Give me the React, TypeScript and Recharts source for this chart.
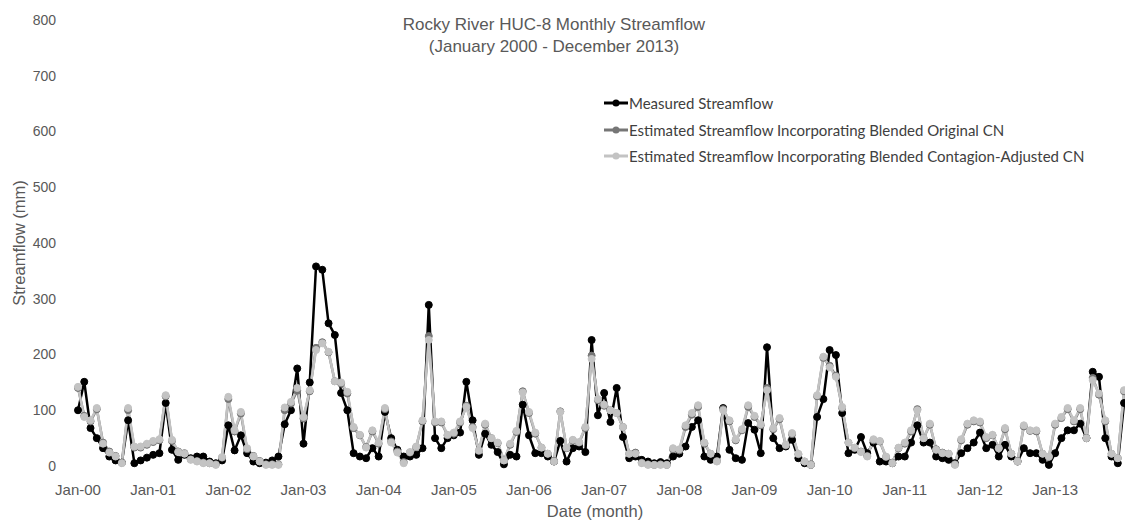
import { LineChart, Line, XAxis, YAxis } from "recharts";

// monthly streamflow (mm), Jan 2000 - Dec 2013
const measured = [
  100, 151, 68, 50, 32, 17, 10, 6, 82, 5, 10, 15,
  20, 23, 113, 29, 11, 20, 14, 17, 17, 8, 5, 10,
  73, 28, 55, 23, 8, 5, 6, 10, 17, 75, 100, 175,
  40, 150, 358, 352, 256, 235, 131, 100, 23, 17, 14, 32,
  17, 97, 50, 29, 17, 17, 20, 32, 289, 50, 32, 50,
  55, 60, 151, 82, 20, 58, 38, 25, 3, 20, 17, 110,
  55, 23, 23, 17, 8, 45, 8, 32, 35, 25, 226, 91,
  131, 79, 140, 52, 14, 17, 11, 8, 5, 7, 5, 17,
  22, 35, 70, 82, 17, 11, 17, 104, 29, 14, 11, 77,
  65, 23, 213, 50, 32, 35, 47, 14, 5, 2, 88, 120,
  208, 199, 95, 23, 29, 52, 23, 42, 8, 8, 5, 17,
  17, 42, 73, 42, 42, 17, 14, 11, 5, 23, 32, 42,
  60, 32, 38, 17, 38, 17, 8, 32, 23, 23, 11, 2,
  23, 50, 64, 64, 76, 50, 169, 160, 50, 17, 5, 113,
];

const originalCN = [
  140, 90, 80, 102, 42, 26, 18, 6, 100, 33, 33, 38,
  43, 46, 125, 45, 26, 23, 12, 9, 6, 5, 3, 15,
  120, 62, 94, 30, 18, 9, 3, 3, 3, 100, 112, 135,
  85, 134, 212, 222, 204, 152, 148, 130, 68, 55, 34, 62,
  40, 102, 44, 26, 7, 24, 34, 80, 233, 78, 78, 55,
  58, 78, 108, 70, 27, 74, 50, 41, 10, 38, 61, 134,
  95, 58, 33, 22, 9, 98, 32, 46, 42, 68, 198, 118,
  108, 100, 95, 70, 22, 24, 6, 3, 2, 3, 2, 30,
  28, 70, 92, 106, 40, 22, 9, 102, 80, 46, 64, 106,
  88, 73, 140, 66, 84, 37, 57, 21, 8, 3, 125, 194,
  180, 162, 104, 42, 32, 26, 18, 46, 44, 16, 6, 32,
  40, 62, 102, 50, 74, 30, 24, 22, 3, 46, 74, 80,
  78, 50, 55, 32, 66, 22, 9, 71, 63, 62, 22, 16,
  74, 86, 102, 80, 102, 50, 158, 128, 80, 22, 14, 134,
];

const contagionCN = [
  142, 88, 82, 104, 40, 24, 17, 5, 104, 35, 35, 40,
  45, 48, 127, 47, 25, 22, 11, 8, 5, 5, 2, 16,
  124, 64, 97, 32, 17, 8, 2, 2, 2, 105, 115, 140,
  88, 136, 208, 220, 205, 152, 150, 133, 70, 56, 33, 64,
  42, 104, 42, 24, 5, 25, 35, 82, 226, 80, 80, 56,
  60, 80, 106, 68, 28, 76, 50, 42, 10, 40, 63, 132,
  97, 60, 33, 22, 8, 97, 33, 47, 43, 70, 192, 120,
  110, 100, 95, 70, 22, 22, 5, 2, 2, 2, 2, 32,
  30, 73, 95, 109, 42, 22, 8, 100, 82, 48, 66, 109,
  90, 75, 136, 68, 86, 38, 59, 22, 8, 2, 127, 196,
  177, 160, 106, 42, 33, 25, 17, 48, 45, 17, 5, 33,
  42, 64, 100, 50, 76, 29, 23, 22, 2, 48, 76, 82,
  80, 52, 56, 32, 68, 22, 8, 73, 64, 64, 22, 17,
  76, 88, 104, 82, 104, 50, 154, 130, 82, 22, 14, 136,
];

const tickLabels = ["Jan-00", "Jan-01", "Jan-02", "Jan-03", "Jan-04", "Jan-05", "Jan-06",
  "Jan-07", "Jan-08", "Jan-09", "Jan-10", "Jan-11", "Jan-12", "Jan-13"];
const tickMonths = [0, 12, 24, 36, 48, 60, 72, 84, 96, 108, 120, 132, 144, 156];
const yTicks = [0, 100, 200, 300, 400, 500, 600, 700, 800];

const series = [
  { key: "measured", name: "Measured Streamflow", color: "#000000" },
  { key: "original", name: "Estimated Streamflow Incorporating Blended Original CN", color: "#767676" },
  { key: "contagion", name: "Estimated Streamflow Incorporating Blended Contagion-Adjusted CN", color: "#c3c3c3" },
];

const data = measured.map((m, i) => ({
  idx: i,
  measured: m,
  original: originalCN[i],
  contagion: contagionCN[i],
}));

// tick marks sit between Dec and Jan, labels on Jan
const boundaries = tickMonths.map((m) => m - 0.5);
const xDomain = [-0.958, 167.95];
const grey = "#595959";

function ChartLegend() {
  return (
    <div style={{ position: "absolute", left: 604, top: 90, fontFamily: "Lato, sans-serif", fontSize: 15, color: "#404040" }}>
      {series.map((s) => (
        <div key={s.key} style={{ display: "flex", alignItems: "center", height: 26.5 }}>
          <svg width={24} height={10}>
            <line x1={0} y1={5} x2={24} y2={5} stroke={s.color} strokeWidth={3} />
            <circle cx={12} cy={5} r={3.5} fill={s.color} />
          </svg>
          <span style={{ marginLeft: 1 }}>{s.name}</span>
        </div>
      ))}
    </div>
  );
}

export default function App() {
  return (
    <div
      style={{
        position: "absolute", left: 0, top: 0, width: 1125, height: 520,
        overflow: "hidden", background: "#fff",
        fontFamily: "'Liberation Sans', Arial, sans-serif",
      }}
    >
      <LineChart width={1140} height={520} data={data} margin={{ top: 20, right: 10, bottom: 0, left: 0 }}>
        <XAxis
          xAxisId="main" dataKey="idx" type="number" domain={xDomain} allowDataOverflow
          ticks={boundaries} tick={false} tickSize={5} height={0} interval={0}
          tickLine={{ stroke: "#bfbfbf" }} axisLine={{ stroke: "#bfbfbf", strokeWidth: 1.5 }}
        />
        <XAxis
          xAxisId="labels" dataKey="idx" type="number" domain={xDomain} allowDataOverflow
          ticks={tickMonths} interval={0} height={54}
          tickFormatter={(v) => tickLabels[tickMonths.indexOf(v)]}
          axisLine={false} tickLine={false} tickSize={0} tickMargin={18}
          tick={{ fill: grey, fontSize: 15 }}
        />
        <YAxis
          domain={[0, 800]} ticks={yTicks} interval={0} width={72}
          axisLine={false} tickLine={false} tickSize={0} tickMargin={16}
          tick={{ fill: grey, fontSize: 14 }}
        />
        {series.map((s) => (
          <Line
            key={s.key} xAxisId="main" dataKey={s.key} name={s.name}
            stroke={s.color} strokeWidth={2.5}
            dot={{ r: 3.5, fill: s.color, stroke: s.color, strokeWidth: 1 }}
            isAnimationActive={false}
          />
        ))}
      </LineChart>

      <div style={{ position: "absolute", left: 354, top: 14, width: 400, textAlign: "center", fontSize: 17, lineHeight: "22px", color: grey }}>
        <div>Rocky River HUC-8 Monthly Streamflow</div>
        <div>(January 2000 - December 2013)</div>
      </div>

      <div style={{ position: "absolute", left: -81, top: 233, width: 200, height: 20, lineHeight: "20px", textAlign: "center", fontSize: 16.5, color: grey, transform: "rotate(-90deg)" }}>
        Streamflow (mm)
      </div>

      <div style={{ position: "absolute", left: 495, top: 501, width: 200, lineHeight: "20px", textAlign: "center", fontSize: 16.5, color: grey }}>
        Date (month)
      </div>

      <ChartLegend />
    </div>
  );
}
